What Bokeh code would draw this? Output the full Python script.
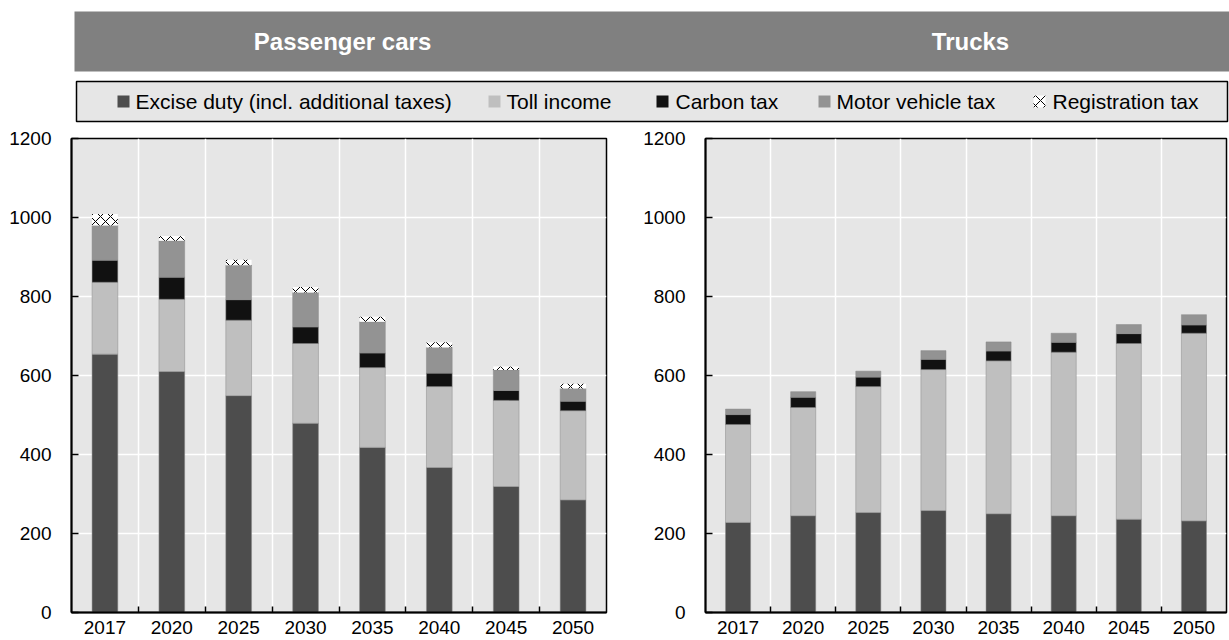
from bokeh.plotting import figure
from bokeh.models import ColumnDataSource, Range1d, FixedTicker
from bokeh.layouts import column, row
from bokeh.transform import stack
from bokeh.core.properties import value
from bokeh.embed import file_html
from bokeh.resources import INLINE

# ---------------- data ----------------
years = ["2017", "2020", "2025", "2030", "2035", "2040", "2045", "2050"]
series = ["Excise duty (incl. additional taxes)", "Toll income", "Carbon tax",
          "Motor vehicle tax", "Registration tax"]
panel_titles = ["Passenger cars", "Trucks"]
y_ticks = [0, 200, 400, 600, 800, 1000, 1200]

cars_excise = [654, 610, 549, 479, 418, 367, 319, 285]
cars_toll = [182, 183, 191, 202, 202, 205, 218, 226]
cars_carbon = [56, 56, 52, 42, 37, 34, 25, 24]
cars_motor = [88, 92, 87, 87, 79, 65, 52, 32]
cars_registration = [29, 12, 14, 14, 13, 13, 9, 12]

trucks_excise = [228, 245, 253, 258, 250, 245, 236, 232]
trucks_toll = [248, 274, 319, 357, 387, 414, 445, 475]
trucks_carbon = [25, 26, 24, 26, 25, 25, 25, 21]
trucks_motor = [14, 14, 15, 22, 23, 23, 23, 26]
trucks_registration = [0, 0, 0, 0, 0, 0, 0, 0]

# ---------------- styles ----------------
FONT = "Liberation Sans"
fills = ["#4d4d4d", "#bfbfbf", "#111111", "#939393", "white"]
hatches = [None, None, None, None, "diagonal_cross"]
PLOT_BG = "#e6e6e6"


def style_kwargs(i):
    kw = dict(fill_color=fills[i], line_color="#8a8a8a", line_width=0.5)
    if hatches[i]:
        kw.update(hatch_pattern=hatches[i], hatch_color="black", hatch_weight=1,
                  hatch_scale=10, line_color=None)
    return kw


def make_panel(values, width, b_left, b_right):
    keys = ["s%d" % i for i in range(len(values))]
    data = {"x": list(range(len(years)))}
    for k, v in zip(keys, values):
        data[k] = v
    src = ColumnDataSource(data)
    p = figure(width=width, height=514,
               x_range=Range1d(-0.5, len(years) - 0.5),
               y_range=Range1d(y_ticks[0], y_ticks[-1]),
               output_backend="svg", toolbar_location=None,
               min_border_left=b_left, min_border_right=b_right,
               min_border_top=12, min_border_bottom=28)
    p.background_fill_color = PLOT_BG
    p.border_fill_color = "white"
    p.outline_line_color = "black"
    p.outline_line_width = 1.5

    for i, k in enumerate(keys):
        p.vbar(x="x", width=0.385, bottom=stack(*keys[:i]), top=stack(*keys[:i + 1]),
               source=src, **style_kwargs(i))

    # x axis: labels at centres, ticks at category boundaries
    xa = p.xaxis[0]
    xa.ticker = FixedTicker(ticks=list(range(len(years))),
                            minor_ticks=[i + 0.5 for i in range(len(years) - 1)])
    xa.major_label_overrides = {i: y for i, y in enumerate(years)}
    xa.major_tick_in = 0
    xa.major_tick_out = 0
    xa.minor_tick_in = 6
    xa.minor_tick_out = 0
    xa.minor_tick_line_color = "black"
    xa.minor_tick_line_width = 1.5
    xa.axis_line_width = 2
    xa.axis_line_color = "black"
    xa.major_label_standoff = 8
    xa.major_label_text_font = FONT
    xa.major_label_text_font_size = "19px"
    xa.major_label_text_color = "black"

    ya = p.yaxis[0]
    ya.ticker = FixedTicker(ticks=y_ticks)
    ya.major_tick_in = 7
    ya.major_tick_out = 0
    ya.major_tick_line_width = 1.5
    ya.major_tick_line_color = "black"
    ya.minor_tick_line_color = None
    ya.axis_line_width = 2
    ya.axis_line_color = "black"
    ya.major_label_standoff = 20
    ya.major_label_text_font = FONT
    ya.major_label_text_font_size = "19px"
    ya.major_label_text_color = "black"

    p.xgrid.ticker = FixedTicker(ticks=[i + 0.5 for i in range(len(years) - 1)])
    p.ygrid.ticker = FixedTicker(ticks=y_ticks[1:-1])
    for g in (p.xgrid[0], p.ygrid[0]):
        g.grid_line_color = "white"
        g.grid_line_width = 1.5
    return p


left = make_panel([cars_excise, cars_toll, cars_carbon, cars_motor, cars_registration],
                  640, 71, 34)
right = make_panel([trucks_excise, trucks_toll, trucks_carbon, trucks_motor, trucks_registration],
                   589, 57, 3)

# ---------------- header: title band + legend ----------------
HW, HH = 1229, 126
h = figure(width=HW, height=HH, x_range=Range1d(0, HW), y_range=Range1d(0, HH),
           output_backend="svg", toolbar_location=None, min_border=0)
h.axis.visible = False
h.grid.visible = False
h.outline_line_color = None
h.background_fill_color = "white"
h.border_fill_color = "white"

h.quad(left=74, right=HW, bottom=55, top=115, fill_color="#808080", line_color=None)
h.text(x=[342, 970], y=[85, 85], text=panel_titles, text_font=value(FONT),
       text_font_style="bold", text_font_size="24px", text_color="white",
       text_align="center", text_baseline="middle")

h.quad(left=76, right=1227, bottom=5, top=45, fill_color="#e6e6e6",
       line_color="black", line_width=1.5)
square_left = [117, 488, 656, 818, 1033]
text_left = [135, 506, 675, 836, 1052]
for i, name in enumerate(series):
    kw = style_kwargs(i)
    kw["line_color"] = None
    h.rect(x=[square_left[i] + 6], y=[25], width=12, height=12, **kw)
h.text(x=text_left, y=[25] * len(series), text=series, text_font=value(FONT),
       text_font_size="21px", text_color="black", text_align="left",
       text_baseline="middle")

layout = column(h, row(left, right))
open("out.html", "w").write(file_html(layout, INLINE))
